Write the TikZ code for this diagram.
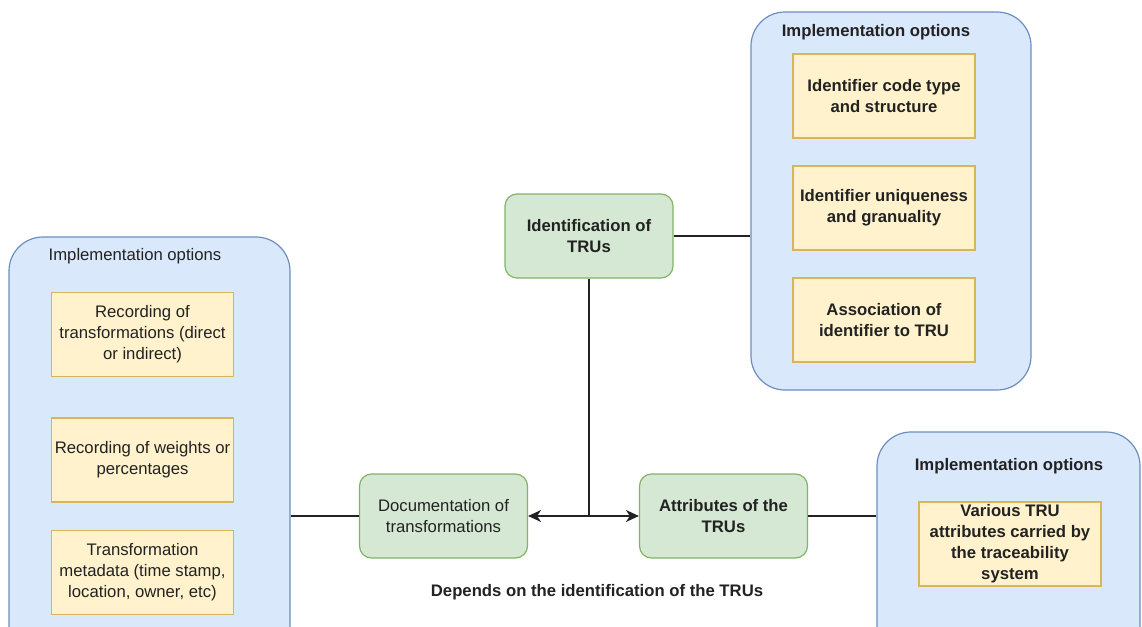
\documentclass[tikz,border=0pt]{standalone}
\usepackage{fontspec}
\setmainfont{Liberation Sans}
\usetikzlibrary{arrows.meta,calc}
\definecolor{bluefill}{HTML}{DAE8FC}
\definecolor{bluedraw}{HTML}{6C8EBF}
\definecolor{yelfill}{HTML}{FFF2CC}
\definecolor{yeldraw}{HTML}{D6B656}
\definecolor{grnfill}{HTML}{D5E8D4}
\definecolor{grndraw}{HTML}{82B366}
\definecolor{txt}{HTML}{222222}
\newcommand{\fsz}{\fontsize{16.7}{21}\selectfont}
\tikzset{
  container/.style={draw=bluedraw, fill=bluefill, line width=1.2pt, rounded corners=34pt, inner sep=0pt},
  optbox/.style={draw=yeldraw, fill=yelfill, line width=1.1pt, minimum width=182pt, minimum height=84pt, align=center, inner sep=0pt, text=txt, font=\fsz},
  topic/.style={draw=grndraw, fill=grnfill, line width=1.2pt, rounded corners=12pt, minimum width=168pt, minimum height=84pt, align=center, inner sep=0pt, text=txt, font=\fsz},
  ttl/.style={text=txt, font=\fsz, inner sep=0pt},
  bold/.style={font=\fsz\bfseries},
  conn/.style={line width=1.2pt, draw=txt},
  tip/.style={-{Stealth[length=13pt,width=12pt,inset=4pt]}}
}
\begin{document}
\begin{tikzpicture}[x=1pt,y=-1pt]
\clip (0,0) rectangle (1142,626);
\fill[white] (0,0) rectangle (1142,626);
% left container
\node[container, minimum width=281pt, minimum height=423pt] (lbox) at (149.5,448.5) {};
\node[ttl] (ltitle) at (135,256) {Implementation options};
\node[optbox] (l1) at (142.5,334.5) {Recording of\\transformations (direct\\or indirect)};
\node[optbox] (l2) at (142.5,460) {Recording of weights or\\percentages};
\node[optbox] (l3) at (142.5,572.5) {Transformation\\metadata (time stamp,\\location, owner, etc)};
% top right container
\node[container, minimum width=280pt, minimum height=378pt] (tbox) at (891,201) {};
\node[ttl, bold] (ttitle) at (876,32) {Implementation options};
\node[optbox, bold] (t1) at (884,96) {Identifier code type\\and structure};
\node[optbox, bold] (t2) at (884,208) {Identifier uniqueness\\and granuality};
\node[optbox, bold] (t3) at (884,320) {Association of\\identifier to TRU};
% bottom right container
\node[container, minimum width=263pt, minimum height=228pt] (rbox) at (1008.5,546) {};
\node[ttl, bold] (rtitle) at (1009,466) {Implementation options};
\node[optbox, bold] (r1) at (1010,544) {Various TRU\\attributes carried by\\the traceability\\system};
% central topics
\node[topic, bold] (ident) at (589,236) {Identification of\\TRUs};
\node[topic] (doc) at (443.5,516) {Documentation of\\transformations};
\node[topic, bold] (attr) at (723.5,516) {Attributes of the\\TRUs};
\node[ttl, bold] (dep) at (597,592) {Depends on the identification of the TRUs};
% connectors
\draw[conn] (ident.east) -- (ident.east -| tbox.west);
\draw[conn] (doc.west) -- (doc.west -| lbox.east);
\draw[conn] (attr.east) -- (attr.east -| rbox.west);
\coordinate (j) at (ident.south |- doc.east);
\draw[conn] (ident.south) -- (j);
\draw[conn, tip] (j) -- (doc.east);
\draw[conn, tip] (j) -- (attr.west);
\end{tikzpicture}
\end{document}
